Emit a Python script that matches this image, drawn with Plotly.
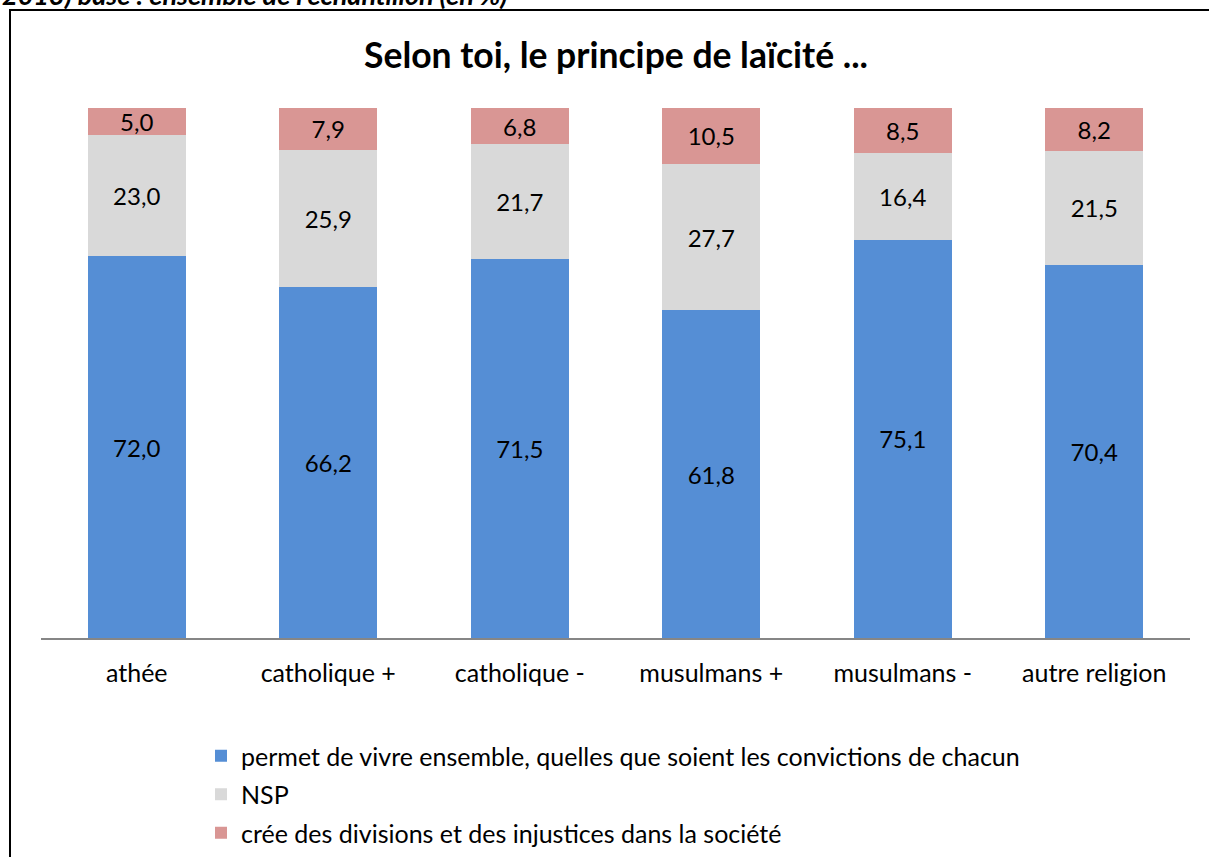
"""
Stacked bar chart: Selon toi, le principe de laïcité ...
"""

import plotly.graph_objects as go

categories = ["athée", "catholique +", "catholique -", "musulmans +", "musulmans -", "autre religion"]

series_names = [
    "permet de vivre ensemble, quelles que soient les convictions de chacun",
    "NSP",
    "crée des divisions et des injustices dans la société",
]
vivre_ensemble = [72.0, 66.2, 71.5, 61.8, 75.1, 70.4]
nsp = [23.0, 25.9, 21.7, 27.7, 16.4, 21.5]
divisions = [5.0, 7.9, 6.8, 10.5, 8.5, 8.2]

colors = ["#558ED5", "#D9D9D9", "#D99694"]

FONT = "Lato"
W, H = 1209, 857
ML, MR, MT, MB = 41, 19, 108, 219
plot_h = H - MT - MB
plot_w = W - ML - MR


def px_to_paper_y(p):
    return (H - MB - p) / plot_h


def px_to_paper_x(p):
    return (p - ML) / plot_w


def fmt(v):
    return f"{v:.1f}".replace(".", ",")


fig = go.Figure()
for i, (name, values) in enumerate(zip(series_names, [vivre_ensemble, nsp, divisions])):
    fig.add_trace(go.Bar(
        x=categories,
        y=values,
        name=name,
        marker=dict(color=colors[i], line=dict(width=0)),
        text=[fmt(v) for v in values],
        textposition="inside",
        insidetextanchor="middle",
        textangle=0,
        textfont=dict(family=FONT, size=24, color="black"),
        legendgroup=f"g{i}",
        hoverinfo="skip",
    ))

fig.update_layout(
    width=W,
    height=H,
    barmode="stack",
    bargap=0.49,
    margin=dict(l=ML, r=MR, t=MT, b=MB, autoexpand=False),
    paper_bgcolor="white",
    plot_bgcolor="white",
    font=dict(family=FONT, size=24, color="black"),
    uniformtext=dict(mode="show", minsize=24),
    showlegend=True,
    legend=dict(
        orientation="v",
        x=px_to_paper_x(201),
        y=px_to_paper_y(733),
        xanchor="left",
        yanchor="top",
        traceorder="grouped",
        tracegroupgap=3,
        font=dict(family=FONT, size=25, color="black"),
        bgcolor="rgba(0,0,0,0)",
    ),
    xaxis=dict(
        showgrid=False,
        showline=True,
        linecolor="#868686",
        linewidth=1.5,
        ticks="",
        tickfont=dict(family=FONT, size=25, color="black"),
        ticklabelstandoff=12,
    ),
    yaxis=dict(
        range=[0, 100],
        visible=False,
        showgrid=False,
    ),
)

fig.add_annotation(
    text="<b>Selon toi, le principe de laïcité ...</b>",
    xref="paper", yref="paper",
    x=0.5, y=px_to_paper_y(55),
    xanchor="center", yanchor="middle",
    showarrow=False,
    font=dict(family=FONT, size=35.5, color="black"),
)

# header line of the page above the chart, only its lower half shows
fig.add_annotation(
    text="<b><i>2013) base : ensemble de l'échantillon (en %)</i></b>",
    xref="paper", yref="paper",
    x=px_to_paper_x(0), y=px_to_paper_y(-6),
    xanchor="left", yanchor="middle",
    showarrow=False,
    font=dict(family=FONT, size=27, color="black"),
)

fig.add_shape(
    type="rect",
    xref="paper", yref="paper",
    x0=px_to_paper_x(10), x1=px_to_paper_x(W + 20),
    y0=px_to_paper_y(H + 20), y1=px_to_paper_y(10),
    line=dict(color="black", width=2),
    fillcolor="rgba(0,0,0,0)",
    layer="above",
)

# the page body gets a default 8px margin; drop it so the figure sits at the corner
fig.write_html(
    "out.html",
    config={"displayModeBar": False},
    post_script="document.body.style.margin='0';",
)
